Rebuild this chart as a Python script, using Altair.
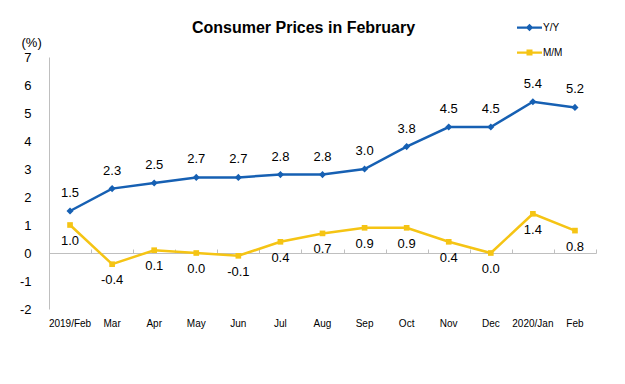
import altair as alt
import pandas as pd

months = ["2019/Feb", "Mar", "Apr", "May", "Jun", "Jul", "Aug", "Sep", "Oct",
          "Nov", "Dec", "2020/Jan", "Feb"]
yoy = [1.5, 2.3, 2.5, 2.7, 2.7, 2.8, 2.8, 3.0, 3.8, 4.5, 4.5, 5.4, 5.2]
mom = [1.0, -0.4, 0.1, 0.0, -0.1, 0.4, 0.7, 0.9, 0.9, 0.4, 0.0, 1.4, 0.8]
series = ["Y/Y", "M/M"]
colors = ["#1660b3", "#f5c414"]

rows = []
for i, m in enumerate(months):
    rows.append({"month": m, "series": "Y/Y", "value": yoy[i], "order": i})
    rows.append({"month": m, "series": "M/M", "value": mom[i], "order": i})
df = pd.DataFrame(rows)
df["label"] = df["value"].map(lambda v: f"{v:.1f}")

FONT = "Liberation Sans"

xscale = alt.Scale(type="band", paddingInner=0, paddingOuter=0)
yscale = alt.Scale(domain=[-2, 7], nice=False, zero=False)
cscale = alt.Scale(domain=series, range=colors)

x_main = alt.X("month:N", sort=months, scale=xscale, bandPosition=0.5,
               axis=alt.Axis(title=None, orient="bottom", domain=False, ticks=False,
                             labelAngle=0, labelFontSize=10, labelFont=FONT,
                             labelColor="#000000", labelPadding=9))
x_plain = alt.X("month:N", sort=months, scale=xscale, bandPosition=0.5, axis=None)
y_plain = alt.Y("value:Q", scale=yscale)
y_enc = alt.Y("value:Q", scale=yscale,
              axis=alt.Axis(title="(%)", titleAngle=0, titleAlign="left",
                            titleBaseline="bottom", titleX=-28, titleY=-8,
                            titleFontSize=13, titleFontWeight="normal", titleFont=FONT,
                            titleColor="#000000",
                            values=list(range(-2, 8)), tickCount=10, ticks=False,
                            grid=False, domainColor="#bfbfbf", labelFontSize=13,
                            labelFont=FONT, labelColor="#000000", labelPadding=18,
                            labelExpr="replace(datum.label, '\u2212', '-')"))

base = alt.Chart(df)
yy = base.transform_filter(alt.datum.series == "Y/Y")
mm = base.transform_filter(alt.datum.series == "M/M")

# zero axis line with ticks at category boundaries
zero_axis = base.mark_point(opacity=0).encode(
    x=alt.X("month:N", sort=months, scale=xscale, bandPosition=0.5,
            axis=alt.Axis(title=None, orient="top", offset=-196, labels=False,
                          ticks=True, tickBand="extent", tickSize=4,
                          tickColor="#bfbfbf", domainColor="#bfbfbf", grid=False)),
    y=y_enc,
)

line_yoy = yy.mark_line(strokeWidth=2.5, color=colors[0]).encode(
    x=x_main, y=y_plain, order="order:Q")
line_mom = mm.mark_line(strokeWidth=2.5, color=colors[1]).encode(
    x=x_plain, y=y_plain, order="order:Q")

pts_yoy = yy.mark_point(shape="diamond", filled=True, size=50, opacity=1,
                        color=colors[0]).encode(x=x_plain, y=y_plain)
pts_mom = mm.mark_point(shape="square", filled=True, size=32, opacity=1,
                        color=colors[1]).encode(x=x_plain, y=y_plain)

lab_yoy = yy.mark_text(dy=-18, fontSize=13, font=FONT, color="#000000").encode(
    x=x_plain, y=y_plain, text="label:N")
lab_mom = mm.mark_text(dy=16, fontSize=13, font=FONT, color="#000000").encode(
    x=x_plain, y=y_plain, text="label:N")

legend_paths = [
    "M-1,-0.09L1,-0.09L1,0.09L-1,0.09Z M0,-0.3L0.3,0L0,0.3L-0.3,0Z",
    "M-1,-0.09L1,-0.09L1,0.09L-1,0.09Z M-0.24,-0.24L0.24,-0.24L0.24,0.24L-0.24,0.24Z",
]
legend_layer = base.transform_filter("false").mark_point(filled=True, opacity=1).encode(
    x=x_plain, y=y_plain,
    color=alt.Color("series:N", scale=cscale,
                    legend=alt.Legend(title=None, orient="none", legendX=468, legendY=-42,
                                      symbolSize=625, symbolOpacity=1, symbolStrokeWidth=0,
                                      labelFontSize=10, labelFont=FONT,
                                      labelColor="#000000", labelOffset=1, rowPadding=7)),
    shape=alt.Shape("series:N", scale=alt.Scale(domain=series, range=legend_paths)),
)

chart = alt.layer(zero_axis, line_yoy, line_mom, pts_yoy, pts_mom, lab_yoy, lab_mom,
                  legend_layer).resolve_axis(
    x="independent"
).properties(
    width=547, height=252,
    autosize=alt.AutoSizeParams(type="none"),
    padding={"left": 41, "top": 49, "right": 21, "bottom": 67},
    title=alt.TitleParams("Consumer Prices in February", fontSize=16, font=FONT,
                          fontWeight="bold", color="#000000", anchor="middle",
                          dx=-19, offset=-21),
).configure(background="#ffffff").configure_view(stroke=None)

chart.save("out.html", embed_options={"renderer": "svg", "actions": False})
